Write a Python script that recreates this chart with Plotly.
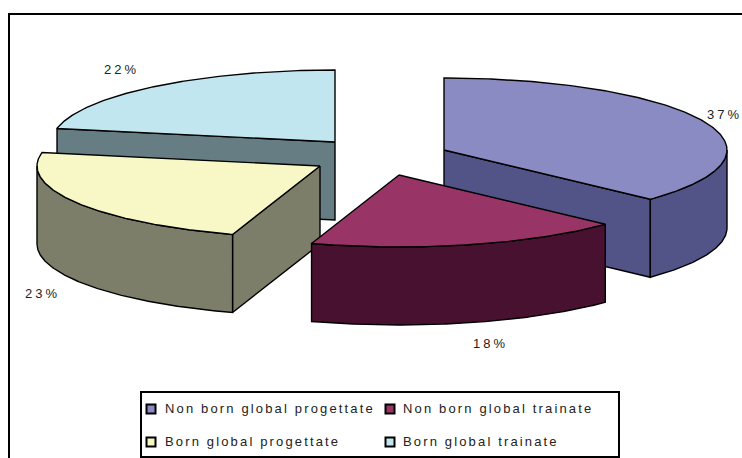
import numpy as np
import plotly.graph_objects as go

categories = ["Non born global progettate", "Non born global trainate",
              "Born global progettate", "Born global trainate"]
values = [37, 18, 23, 22]
top_colors = ["#8A8BC2", "#993566", "#F8F7C6", "#C1E6F0"]
wall_colors = ["#525488", "#47112F", "#7C7E6A", "#667D84"]

# Projection of the tilted pie, in page pixels
RX, RY, DEPTH = 283, 72, 78
apexes = [(444, 150), (399, 175), (320, 166), (335, 142)]
label_pos = [(707, 116), (473, 345), (25, 295), (104, 71)]
legend_pos = [(151, 409), (390, 409), (151, 442), (390, 442)]
legend_text_x = [165, 403, 165, 403]
LINE = "#000000"


def arc(cx, cy, a0, a1, dy=0):
    t = np.radians(np.linspace(a0, a1, max(int(abs(a1 - a0)) * 2, 2)))
    return cx + RX * np.sin(t), cy - RY * np.cos(t) + dy


def poly(fig, x, y, color):
    fig.add_trace(go.Scatter(
        x=list(x), y=list(y), mode="lines", fill="toself", fillcolor=color,
        line=dict(color=LINE, width=1.4), hoverinfo="skip", showlegend=False))


def wall(fig, cx, cy, a0, a1, color):
    xt, yt = arc(cx, cy, a0, a1)
    xb, yb = arc(cx, cy, a0, a1, DEPTH)
    poly(fig, np.r_[xt, xb[::-1], xt[0]], np.r_[yt, yb[::-1], yt[0]], color)


def radial(fig, cx, cy, a, color):
    xe, ye = arc(cx, cy, a, a + 1)
    xe, ye = xe[0], ye[0]
    poly(fig, [cx, xe, xe, cx, cx],
         [cy, ye, ye + DEPTH, cy + DEPTH, cy], color)


def top(fig, cx, cy, a0, a1, color):
    xt, yt = arc(cx, cy, a0, a1)
    poly(fig, np.r_[cx, xt, cx], np.r_[cy, yt, cy], color)


edges = np.r_[0, np.cumsum(values)] / sum(values) * 360
fig = go.Figure()

# Painter's order: back slice first, front slice last
for i in [3, 0, 2, 1]:
    a0, a1 = edges[i], edges[i + 1]
    cx, cy = apexes[i]
    if i == 3:
        radial(fig, cx, cy, a0, wall_colors[i])
    if i == 0:
        radial(fig, cx, cy, a1, wall_colors[i])
        wall(fig, cx, cy, 90, a1, wall_colors[i])
    if i == 1:
        wall(fig, cx, cy, a0, a1, wall_colors[i])
    if i == 2:
        radial(fig, cx, cy, a0, wall_colors[i])
        wall(fig, cx, cy, a0, 270, wall_colors[i])
    top(fig, cx, cy, a0, a1, top_colors[i])

fig.add_trace(go.Scatter(
    x=[p[0] for p in label_pos], y=[p[1] for p in label_pos],
    text=[f"{v}%" for v in values], mode="text", textposition="middle right",
    textfont=dict(family="Liberation Sans", size=13, color="#222222"),
    hoverinfo="skip", showlegend=False))

fig.add_trace(go.Scatter(
    x=[p[0] for p in legend_pos], y=[p[1] for p in legend_pos],
    mode="markers",
    marker=dict(symbol="square", size=9, color=top_colors,
                line=dict(color=LINE, width=2)),
    hoverinfo="skip", showlegend=False))

fig.add_trace(go.Scatter(
    x=legend_text_x, y=[p[1] + 1 for p in legend_pos],
    text=categories, mode="text", textposition="middle right",
    textfont=dict(family="Liberation Sans", size=13, color="#222222"),
    hoverinfo="skip", showlegend=False))

fig.update_layout(
    width=742, height=458, margin=dict(l=0, r=0, t=0, b=0),
    paper_bgcolor="white", plot_bgcolor="white", showlegend=False,
    xaxis=dict(range=[0, 742], visible=False, fixedrange=True),
    yaxis=dict(range=[458, 0], visible=False, fixedrange=True),
    shapes=[
        dict(type="rect", x0=9, y0=14, x1=760, y1=480,
             line=dict(color=LINE, width=2), layer="below"),
        dict(type="rect", x0=141, y0=392, x1=619, y1=457,
             line=dict(color=LINE, width=2), fillcolor="white", layer="below"),
    ])

post = """
document.documentElement.style.margin = '0';
document.documentElement.style.overflow = 'hidden';
document.body.style.margin = '0';
document.querySelectorAll('.textpoint text').forEach(function(t){
  t.style.letterSpacing = t.textContent.length < 5 ? '3px' : '2.15px';
});
"""
fig.write_html("out.html", post_script=post, config={"displayModeBar": False})
